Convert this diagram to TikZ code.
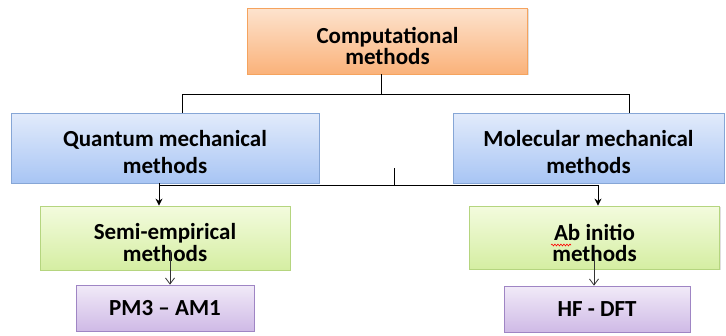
\documentclass[tikz,border=0pt]{standalone}
\usepackage{fontspec}
\setmainfont{Carlito}
\usetikzlibrary{arrows.meta,shadows,decorations.pathmorphing}
\definecolor{orangetop}{HTML}{FDE3CE}
\definecolor{orangebot}{HTML}{FAB27A}
\definecolor{orangeedge}{HTML}{F5A35E}
\definecolor{bluetop}{HTML}{E2EBFB}
\definecolor{bluebot}{HTML}{A8C5F4}
\definecolor{blueedge}{HTML}{86A6D6}
\definecolor{greentop}{HTML}{F3FBDE}
\definecolor{greenbot}{HTML}{D5EEA2}
\definecolor{greenedge}{HTML}{B5D57F}
\definecolor{purptop}{HTML}{F1EAF8}
\definecolor{purpbot}{HTML}{CFBAE6}
\definecolor{purpedge}{HTML}{9F85C4}
\newcommand{\boxtop}[1]{\rule{0pt}{#1}}
\begin{document}
\begin{tikzpicture}[x=1pt,y=-1pt]
\tikzstyle{boxnode}=[draw, line width=0.8pt, inner sep=0pt, align=center, font=\fontsize{23}{21.5}\selectfont\bfseries, drop shadow={opacity=0.25, shadow xshift=1.2pt, shadow yshift=-1.2pt}]
\tikzstyle{orangebox}=[boxnode, draw=orangeedge, top color=orangetop, bottom color=orangebot]
\tikzstyle{bluebox}=[boxnode, draw=blueedge, top color=bluetop, bottom color=bluebot]
\tikzstyle{greenbox}=[boxnode, draw=greenedge, top color=greentop, bottom color=greenbot]
\tikzstyle{purplebox}=[boxnode, draw=purpedge, top color=purptop, bottom color=purpbot]
\tikzstyle{link}=[black, line width=0.9pt]
\useasboundingbox (0,0) rectangle (726,335);
\node [orangebox, minimum width=280pt, minimum height=66pt] (comp) at (387.5,41) {\boxtop{26pt}Computational\\methods};
\node [bluebox, minimum width=308pt, minimum height=70pt] (qm) at (165,148) {\boxtop{25pt}Quantum mechanical\\[5.5pt]methods};
\node [bluebox, minimum width=271pt, minimum height=70pt] (mm) at (588.5,148) {\boxtop{25pt}Molecular mechanical\\[5.5pt]methods};
\node [greenbox, minimum width=250pt, minimum height=64pt] (semi) at (165,238) {\boxtop{25pt}Semi-empirical\\methods};
\node [greenbox, minimum width=250pt, minimum height=63pt] (abin) at (594.5,237.5) {\boxtop{27.5pt}Ab initio\\methods};
\node [purplebox, minimum width=178pt, minimum height=46pt] (pm) at (165,308) {PM3 -- AM1};
\node [purplebox, minimum width=186pt, minimum height=46pt] (hf) at (597,309) {HF - DFT};
\draw [red, line width=0.6pt, decorate, decoration={snake, amplitude=0.9pt, segment length=3pt}] (551,245) -- (571,245);
\coordinate (split) at (381,94);
\coordinate (busL) at (182,94);
\coordinate (busR) at (629,94);
\draw [link] (comp.south -| split) -- (split);
\draw [link] (qm.north -| busL) -- (busL) -- (busR) -- (mm.north -| busR);
\coordinate (bus2L) at (159,185);
\coordinate (bus2R) at (598,185);
\coordinate (tick) at (394,168);
\draw [link] (qm.south -| bus2L) -- (bus2L) -- (bus2R);
\draw [link] (tick) -- (tick |- bus2L);
\draw [link, -{Stealth[length=7pt,width=7pt]}] (bus2L) -- (semi.north -| bus2L);
\draw [link, -{Stealth[length=7pt,width=7pt]}] (bus2R) -- (abin.north -| bus2R);
\coordinate (semiout) at (170,250);
\coordinate (abinout) at (594,250);
\draw [black!80, line width=0.8pt, -{Straight Barb[length=6pt,width=9pt]}] (semiout) -- (pm.north -| semiout);
\draw [black!80, line width=0.8pt, -{Straight Barb[length=6pt,width=9pt]}] (abinout) -- (hf.north -| abinout);
\end{tikzpicture}
\end{document}
